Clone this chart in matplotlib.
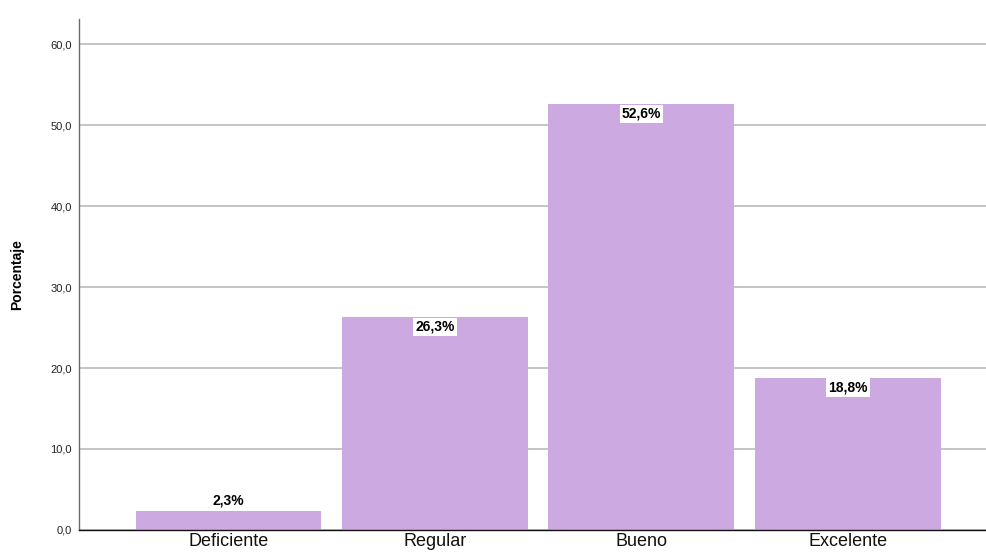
import matplotlib
matplotlib.use("Agg")
import matplotlib.pyplot as plt

categories = ["Deficiente", "Regular", "Bueno", "Excelente"]
percentages = [2.3, 26.3, 52.6, 18.8]
y_ticks = [0, 10, 20, 30, 40, 50, 60]

plt.rcParams["font.family"] = ["Liberation Sans", "DejaVu Sans"]

fig = plt.figure(figsize=(9.86, 5.57), dpi=100)
ax = fig.add_axes([0.0801, 0.0485, 0.9199, 0.9175])

x = list(range(len(categories)))
bars = ax.bar(x, percentages, width=0.9, color="#cda9e1", zorder=2)

ax.set_xlim(-0.724, 3.67)
ax.set_ylim(0, 63.1)
ax.set_yticks(y_ticks)
ax.set_yticklabels([f"{v:.1f}".replace(".", ",") for v in y_ticks], fontsize=8, color="#222222")
ax.set_xticks(x)
ax.set_xticklabels(categories, fontsize=13, color="#111111")
ax.tick_params(axis="both", length=0, pad=5)
ax.tick_params(axis="x", pad=2)

ax.yaxis.grid(True, color="#b4b4b4", linewidth=1.1, zorder=0)
ax.set_axisbelow(True)

for side in ("top", "right"):
    ax.spines[side].set_visible(False)
ax.spines["left"].set_color("#6a6a6a")
ax.spines["bottom"].set_color("#111111")
ax.spines["left"].set_linewidth(1.0)
ax.spines["bottom"].set_linewidth(1.0)

ax.set_ylabel("Porcentaje", fontsize=10, fontweight="bold", labelpad=19)

for xi, v in zip(x, percentages):
    label = f"{v:.1f}".replace(".", ",") + "%"
    if v < 5:
        ax.annotate(label, (xi, v), xytext=(0, 3), textcoords="offset points",
                    ha="center", va="bottom", fontsize=10, fontweight="bold", zorder=3)
    else:
        ax.annotate(label, (xi, v), xytext=(0, -2), textcoords="offset points",
                    ha="center", va="top", fontsize=10, fontweight="bold", zorder=3,
                    bbox=dict(boxstyle="square,pad=0.15", facecolor="white", edgecolor="none"))

fig.savefig("out.png", dpi=100)
